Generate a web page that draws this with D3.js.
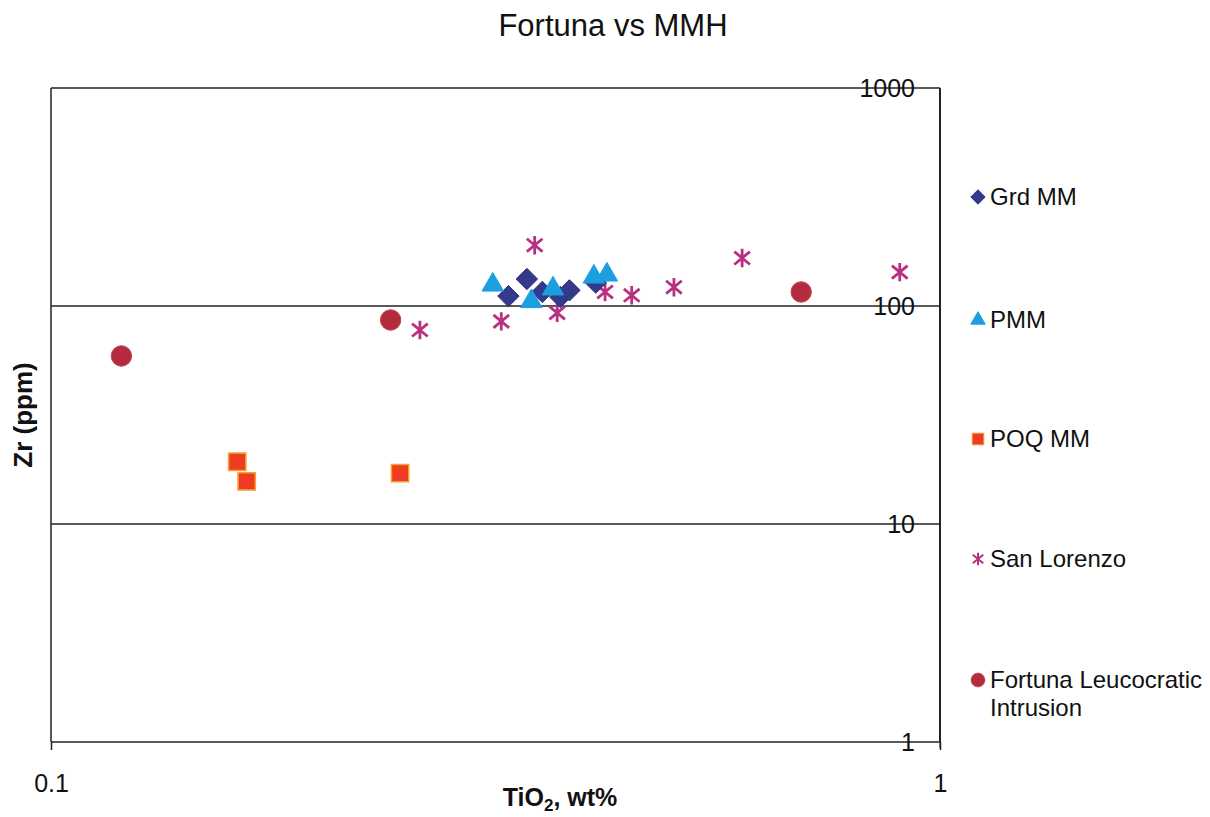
<!DOCTYPE html>
<html>
<head>
<meta charset="utf-8">
<script src="https://cdn.jsdelivr.net/npm/d3@7"></script>
<style>
  body { margin: 0; background: #fff; }
  text { font-family: "Liberation Sans", Arial, sans-serif; }
</style>
</head>
<body>
<div id="chart"></div>
<script>
// data: TiO2 (wt%) and Zr (ppm)
var grdTi = [0.327, 0.343, 0.357, 0.374, 0.383, 0.410];
var grdZr = [111, 133, 116, 110, 118, 128];

var pmmTi = [0.314, 0.347, 0.367, 0.408, 0.422];
var pmmZr = [125, 105, 120, 136, 139];

var poqTi = [0.162, 0.166, 0.247];
var poqZr = [19.3, 15.7, 17.1];

var slTi = [0.260, 0.321, 0.350, 0.371, 0.420, 0.450, 0.502, 0.599, 0.901];
var slZr = [77.6, 85, 190, 93, 116, 112, 122, 166, 143];

var flTi = [0.120, 0.241, 0.698];
var flZr = [59, 86.3, 116];

var seriesNames = ["Grd MM", "PMM", "POQ MM", "San Lorenzo", "Fortuna Leucocratic Intrusion"];
var xTicks = [0.1, 1];
var yTicks = [1, 10, 100, 1000];

var svgWidth = 1210;
var svgHeight = 817;
var margin = { top: 88, right: 270, bottom: 75, left: 51 };
var width = svgWidth - margin.left - margin.right;
var height = svgHeight - margin.top - margin.bottom;

// excel style markers
var diamond = {
  draw: function(ctx, size) {
    var r = Math.sqrt(size) / 2 * 1.35;
    ctx.moveTo(0, -r); ctx.lineTo(r, 0); ctx.lineTo(0, r); ctx.lineTo(-r, 0); ctx.closePath();
  }
};
var star = {
  draw: function(ctx, size) {
    var r = Math.sqrt(size) / 2;
    var dx = r * 0.85, dy = r * 0.7;
    ctx.moveTo(0, -r); ctx.lineTo(0, r);
    ctx.moveTo(-dx, -dy); ctx.lineTo(dx, dy);
    ctx.moveTo(dx, -dy); ctx.lineTo(-dx, dy);
  }
};

var svg = d3.select("#chart")
    .append("svg")
    .attr("width", svgWidth)
    .attr("height", svgHeight);

var chartGroup = svg.append("g")
    .attr("transform", `translate(${margin.left}, ${margin.top})`);

var x = d3.scaleLog().domain([0.1, 1]).range([0, width]);
var y = d3.scaleLog().domain([1, 1000]).range([height, 0]);

// horizontal lines at each decade
chartGroup.append("g")
  .selectAll("line")
  .data(yTicks)
  .enter()
  .append("line")
  .attr("x1", 0)
  .attr("x2", width)
  .attr("y1", d => y(d))
  .attr("y2", d => y(d))
  .attr("stroke", "#222")
  .attr("stroke-width", 1.5);

// frame sides
chartGroup.append("line")
  .attr("x1", 0).attr("x2", 0).attr("y1", 0).attr("y2", height)
  .attr("stroke", "#222").attr("stroke-width", 1.5);
chartGroup.append("line")
  .attr("x1", width).attr("x2", width).attr("y1", 0).attr("y2", height)
  .attr("stroke", "#222").attr("stroke-width", 2);

// x axis ticks + labels
var bottomAxis = d3.axisBottom(x).tickValues(xTicks).tickSize(8).tickFormat(d3.format("~g"));
var xAxisG = chartGroup.append("g")
  .attr("transform", `translate(0, ${height})`)
  .call(bottomAxis);
xAxisG.select(".domain").remove();
xAxisG.selectAll("line").attr("stroke", "#222").attr("stroke-width", 1.5);
xAxisG.selectAll("text")
  .attr("font-size", 25)
  .attr("font-family", "Liberation Sans, Arial, sans-serif")
  .attr("fill", "#111")
  .attr("y", 32);

// y tick labels, right aligned inside the plot, drawn over the lines
var rightAxis = d3.axisLeft(y).tickValues(yTicks).tickSize(0).tickFormat(d3.format("~g"));
var yAxisG = chartGroup.append("g")
  .attr("transform", `translate(${width - 25}, 0)`)
  .call(rightAxis);
yAxisG.select(".domain").remove();
yAxisG.selectAll("text")
  .attr("font-size", 25)
  .attr("font-family", "Liberation Sans, Arial, sans-serif")
  .attr("fill", "#111")
  .attr("x", 0);
// small right ticks
chartGroup.append("g")
  .selectAll("line")
  .data(yTicks)
  .enter()
  .append("line")
  .attr("x1", width)
  .attr("x2", width)
  .attr("y1", d => y(d))
  .attr("y2", d => y(d) + 6)
  .attr("stroke", "#222");

var zip = (a, b) => a.map((v, i) => ({ x: v, y: b[i] }));

var series = [
  { name: seriesNames[0], pts: zip(grdTi, grdZr), shape: diamond, size: 250, fill: "#333a8c", stroke: "#2a2f78", sw: 1 },
  { name: seriesNames[1], pts: zip(pmmTi, pmmZr), shape: d3.symbolTriangle, size: 200, fill: "#1d9ee0", stroke: "#1d9ee0", sw: 1 },
  { name: seriesNames[2], pts: zip(poqTi, poqZr), shape: d3.symbolSquare, size: 300, fill: "#ee3c22", stroke: "#f7a030", sw: 1.5 },
  { name: seriesNames[3], pts: zip(slTi, slZr), shape: star, size: 340, fill: "none", stroke: "#b8307f", sw: 2.8 },
  { name: seriesNames[4], pts: zip(flTi, flZr), shape: d3.symbolCircle, size: 330, fill: "#b42b3d", stroke: "#c24a58", sw: 1 }
];

// draw order: circles, squares, asterisks, diamonds, triangles
[4, 2, 3, 0, 1].forEach(function(i) {
  var s = series[i];
  chartGroup.append("g")
    .selectAll("path")
    .data(s.pts)
    .enter()
    .append("path")
    .attr("transform", d => `translate(${x(d.x)}, ${y(d.y)})`)
    .attr("d", d3.symbol().type(s.shape).size(s.size))
    .attr("fill", s.fill)
    .attr("stroke", s.stroke)
    .attr("stroke-width", s.sw);
});

// legend
var legendY = [197, 320, 439, 559, 680];
var legend = svg.append("g");
series.forEach(function(s, i) {
  legend.append("path")
    .attr("transform", `translate(978, ${legendY[i]})`)
    .attr("d", d3.symbol().type(s.shape).size(s.size * 0.45))
    .attr("fill", s.fill)
    .attr("stroke", s.stroke)
    .attr("stroke-width", i == 3 ? 2 : 1);
  var t = legend.append("text")
    .attr("x", 990)
    .attr("y", legendY[i])
    .attr("dy", "0.35em")
    .attr("font-size", 24)
    .attr("fill", "#111");
  if (i == 4) {
    t.append("tspan").attr("x", 990).text("Fortuna Leucocratic");
    t.append("tspan").attr("x", 990).attr("dy", "1.15em").text("Intrusion");
  } else {
    t.text(s.name);
  }
});

// title
svg.append("text")
  .attr("x", 613)
  .attr("y", 36)
  .attr("text-anchor", "middle")
  .attr("font-size", 31)
  .attr("fill", "#111")
  .text("Fortuna vs MMH");

// axis titles
svg.append("text")
  .attr("transform", "rotate(-90)")
  .attr("x", -415)
  .attr("y", 32)
  .attr("text-anchor", "middle")
  .attr("font-size", 26)
  .attr("font-weight", "bold")
  .attr("fill", "#111")
  .text("Zr (ppm)");

var xl = svg.append("text")
  .attr("x", 560)
  .attr("y", 806)
  .attr("text-anchor", "middle")
  .attr("font-size", 25)
  .attr("font-weight", "bold")
  .attr("fill", "#111");
xl.append("tspan").text("TiO");
xl.append("tspan").attr("font-size", 17).attr("dy", 5).text("2");
xl.append("tspan").attr("dy", -5).text(", wt%");
</script>
</body>
</html>
